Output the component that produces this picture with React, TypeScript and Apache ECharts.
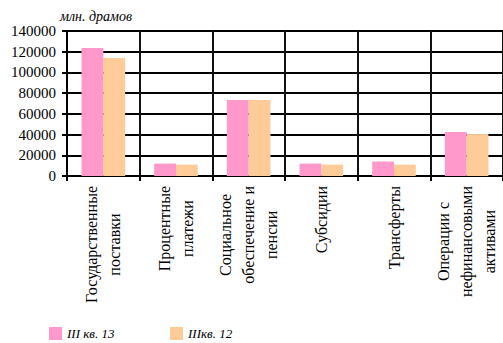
import React, { useEffect, useRef } from "react";
import * as echarts from "echarts";

// Budget expenditure by category, million drams
const categories = [
  "Государственные\nпоставки",
  "Процентные\nплатежи",
  "Социальное\nобеспечение и\nпенсии",
  "Субсидии",
  "Трансферты",
  "Операции с\nнефинансовыми\nактивами",
];
const seriesNames = ["III кв. 13", "IIIкв. 12"];
const q3y13 = [123500, 12000, 73500, 12000, 14000, 42500];
const q3y12 = [114000, 11000, 73300, 11000, 11000, 40500];
const yTicks = { min: 0, max: 140000, interval: 20000 };
const unitLabel = "млн. драмов";

const FONT = "Liberation Serif";
const PINK = "#FF99CC";
const PEACH = "#FFCC99";

export default function App() {
  const ref = useRef<HTMLDivElement>(null);

  useEffect(() => {
    if (!ref.current) return;
    const chart = echarts.init(ref.current, undefined, { renderer: "svg" });

    const legendText = {
      fontFamily: FONT,
      fontStyle: "italic",
      fontSize: 13,
      color: "#000",
    };

    chart.setOption({
      animation: false,
      backgroundColor: "#fff",
      textStyle: { fontFamily: FONT },
      title: {
        text: unitLabel,
        left: 60,
        top: 9,
        padding: 0,
        textStyle: {
          fontFamily: FONT,
          fontStyle: "italic",
          fontWeight: "normal",
          fontSize: 14,
          color: "#000",
        },
      },
      legend: [
        {
          data: [seriesNames[0]],
          left: 49,
          top: 327,
          padding: 0,
          itemWidth: 13,
          itemHeight: 13,
          icon: "rect",
          textStyle: legendText,
        },
        {
          data: [seriesNames[1]],
          left: 170,
          top: 327,
          padding: 0,
          itemWidth: 13,
          itemHeight: 13,
          icon: "rect",
          textStyle: legendText,
        },
      ],
      grid: { left: 67, top: 31, width: 438, height: 145 },
      xAxis: {
        type: "category",
        data: categories,
        axisLine: { lineStyle: { color: "#000", width: 2 } },
        axisTick: { show: true, length: 5, lineStyle: { color: "#000", width: 2 } },
        splitLine: { show: true, lineStyle: { color: "#111", width: 2 } },
        axisLabel: {
          interval: 0,
          rotate: 90,
          margin: 10,
          color: "#000",
          fontFamily: FONT,
          fontSize: 16,
          lineHeight: 23,
          formatter: (v: string) =>
            v
              .split("\n")
              .map((l) => `{c|${l}}`)
              .join("\n"),
          rich: {
            c: {
              align: "center",
              fontFamily: FONT,
              fontSize: 16,
              lineHeight: 23,
              color: "#000",
            },
          },
        },
      },
      yAxis: {
        type: "value",
        min: yTicks.min,
        max: yTicks.max,
        interval: yTicks.interval,
        axisLine: { show: true, lineStyle: { color: "#000", width: 2 } },
        axisTick: { show: true, length: 5, lineStyle: { color: "#000", width: 2 } },
        splitLine: { show: true, lineStyle: { color: "#000", width: 2 } },
        axisLabel: {
          margin: 11,
          color: "#000",
          fontFamily: FONT,
          fontSize: 15,
          formatter: (v: number) => String(v),
        },
      },
      series: [
        {
          name: seriesNames[0],
          type: "bar",
          data: q3y13,
          itemStyle: { color: PINK },
          barGap: "0%",
          barCategoryGap: "40%",
        },
        {
          name: seriesNames[1],
          type: "bar",
          data: q3y12,
          itemStyle: { color: PEACH },
          barGap: "0%",
          barCategoryGap: "40%",
        },
      ],
    });

    return () => chart.dispose();
  }, []);

  return (
    <div
      ref={ref}
      style={{ position: "fixed", left: 0, top: 0, width: 503, height: 343 }}
    />
  );
}
